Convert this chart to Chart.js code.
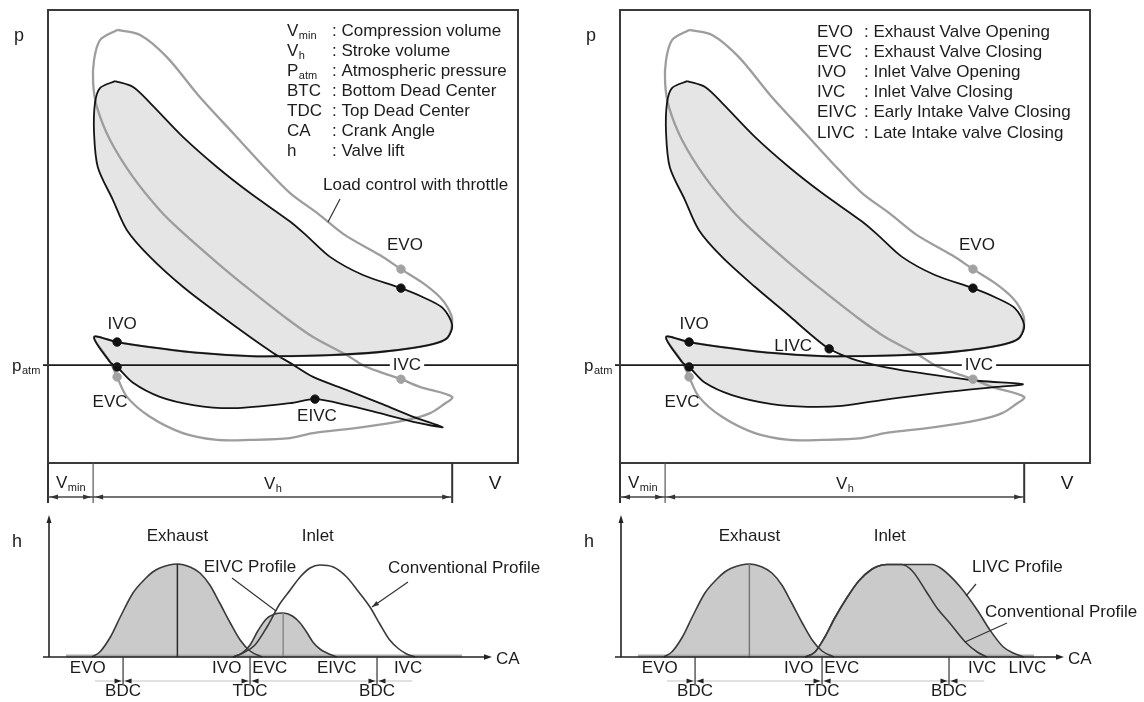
<!DOCTYPE html>
<html><head><meta charset="utf-8">
<script src="https://cdn.jsdelivr.net/npm/chart.js@4.4.0/dist/chart.umd.min.js"></script>
<style>
html,body{margin:0;padding:0;background:#fff;}
#wrap{position:relative;width:1144px;height:702px;overflow:hidden;background:#fff;}
canvas{position:absolute;}
</style></head><body>
<div id="wrap">
<canvas id="pvL" width="572" height="510" style="left:0;top:0;width:572px;height:510px"></canvas>
<canvas id="pvR" width="572" height="510" style="left:572px;top:0;width:572px;height:510px"></canvas>
<canvas id="hL" width="572" height="192" style="left:0;top:510px;width:572px;height:192px"></canvas>
<canvas id="hR" width="572" height="192" style="left:572px;top:510px;width:572px;height:192px"></canvas>
</div>
<script>
// ---------------- DATA ----------------
// p-V diagrams: V in % of box width, p in % of box height
const pAtm = 21.6;
const vMin = 9.6;      // end of compression volume
const vBDC = 86.0;     // Vmin + Vh

// throttled (conventional) cycle, grey
const throttleLoop = [[14.7,95.6],[19.6,94.5],[25.3,89.6],[32.3,80.8],[39.4,72.8],[46.6,64.7],[51.5,59.6],[57.5,55.0],[63.2,50.3],[70.6,45.9],[75.1,42.8],[79.8,39.7],[83.4,36.6],[85.1,34.2],[86.0,31.6],[85.1,27.8],[82.8,26.5],[77.7,25.4],[70.6,24.5],[60.0,23.8],[51.5,23.6],[43.0,23.6],[32.3,24.3],[21.7,25.6],[14.7,26.7],[9.8,27.8],[13.2,22.3],[14.7,19.0],[16.8,14.6],[21.7,10.2],[28.7,6.6],[36.0,5.1],[43.0,5.1],[51.5,5.5],[56.4,6.6],[67.0,7.9],[76.4,9.5],[81.3,11.0],[84.0,12.8],[86.0,14.6],[79.1,16.8],[75.1,18.5],[70.6,20.1],[67.0,21.6],[63.6,23.8],[56.4,27.8],[50.4,32.2],[43.0,38.2],[36.0,44.2],[28.1,51.4],[23.8,55.8],[18.1,63.1],[13.2,71.3],[10.4,78.6],[9.6,83.9],[9.8,89.0],[11.1,93.4],[14.7,95.6]];

// early intake valve closing cycle, black
const eivcLoop = [[14.3,84.3],[18.1,83.0],[21.7,79.5],[28.7,72.0],[36.0,65.3],[43.0,59.6],[51.5,53.3],[55.0,50.2],[60.0,45.5],[67.0,41.5],[75.1,38.6],[79.8,36.6],[84.0,34.2],[86.0,30.5],[85.1,27.8],[82.8,26.5],[77.7,25.4],[70.6,24.5],[60.0,23.8],[51.5,23.6],[43.0,23.6],[32.3,24.3],[21.7,25.6],[14.7,26.7],[9.8,27.8],[13.2,22.3],[14.7,21.2],[18.1,17.7],[23.8,14.6],[30.9,12.8],[39.4,12.1],[51.5,13.2],[56.8,14.1],[63.6,12.8],[70.6,11.0],[77.7,9.1],[84.0,7.9],[77.7,10.2],[70.6,13.2],[63.6,16.1],[56.4,19.0],[51.5,22.1],[47.9,24.3],[43.0,27.8],[36.0,33.1],[28.7,38.9],[21.7,45.5],[16.8,51.4],[13.8,58.1],[10.6,65.3],[9.8,72.8],[10.0,79.5],[11.1,82.8],[14.3,84.3]];

// late intake valve closing cycle, black
const livcLoop = [[14.3,84.3],[18.1,83.0],[21.7,79.5],[28.7,72.0],[36.0,65.3],[43.0,59.6],[51.5,53.3],[55.0,50.2],[60.0,45.5],[67.0,41.5],[75.1,38.6],[79.8,36.6],[84.0,34.2],[86.0,30.5],[85.1,27.8],[82.8,26.5],[77.7,25.4],[70.6,24.5],[60.0,23.8],[51.5,23.6],[43.0,23.6],[32.3,24.3],[21.7,25.6],[14.7,26.7],[9.8,27.8],[13.2,22.3],[14.7,21.2],[18.1,17.7],[23.8,15.0],[32.3,13.0],[40.0,12.4],[47.2,12.6],[55.7,13.9],[69.6,15.7],[80.2,16.8],[85.7,17.4],[76.6,18.1],[69.6,19.0],[62.3,20.1],[55.3,21.4],[49.4,23.0],[44.5,25.2],[40.2,28.7],[36.0,32.5],[28.7,38.9],[21.7,45.5],[16.8,51.4],[13.8,58.1],[10.6,65.3],[9.8,72.8],[10.0,79.5],[11.1,82.8],[14.3,84.3]];

// valve events on the loops [name, V, p]
const throttleEvents = [['EVO',75.1,42.8],['EVC',14.7,19.0],['IVC',75.1,18.5]];
const eivcEvents = [['EVO',75.1,38.6],['IVO',14.7,26.7],['EVC',14.7,21.2],['EIVC',56.8,14.1]];
const livcEvents = [['EVO',75.1,38.6],['IVO',14.7,26.7],['EVC',14.7,21.2],['LIVC',44.5,25.2]];

// valve lift diagrams: [crank angle deg, lift]
const exhaustLift = [[136,0],[147,0.5],[162,2.0],[176,4.0],[194,6.4],[211,7.8],[222,8.5],[232,8.9],[257,9.3],[275,9.0],[289,8.4],[303,7.2],[317,5.4],[332,3.4],[346,1.7],[360,0.6],[377,0]];
const inletConvLeft = [[336,0],[350,0.4],[367,1.2],[384,3.0],[402,5.3],[417,6.7],[431,8.0],[445,8.9],[459,9.2],[478,9.0],[497,8.0],[513,6.6],[530,5.0],[544,3.3],[558,1.7],[571,0.8],[582,0.3],[594,0]];
const eivcLift = [[336,0],[349,0.4],[360,1.2],[371,2.6],[383,3.8],[395,4.3],[407,4.4],[420,4.1],[431,3.4],[441,2.4],[449,1.5],[459,0.8],[469,0.4],[483,0]];
const inletConvRight = [[336,0],[350,0.5],[364,2.0],[378,3.9],[395,5.9],[412,7.6],[431,8.8],[445,9.2],[452,9.25],[473,9.25],[488,8.6],[509,6.4],[524,4.8],[541,3.4],[563,1.5],[580,0.5],[594,0]];
const livcLift = [[336,0],[350,0.5],[364,2.0],[378,3.9],[395,5.9],[412,7.6],[431,8.8],[445,9.2],[452,9.25],[516,9.25],[530,8.8],[556,7.0],[580,4.7],[598,2.7],[617,1.0],[631,0.4],[646,0]];

const caMarks = [['BDC',180],['TDC',360],['BDC',540]];
const caEventsLeft = [['EVO',130],['IVO',327],['EVC',388],['EIVC',483],['IVC',584]];
const caEventsRight = [['EVO',130],['IVO',327],['EVC',388],['IVC',587],['LIVC',651]];

const legendLeft = [['V','min','Compression volume'],['V','h','Stroke volume'],['P','atm','Atmospheric pressure'],['BTC','','Bottom Dead Center'],['TDC','','Top Dead Center'],['CA','','Crank Angle'],['h','','Valve lift']];
const legendRight = [['EVO','','Exhaust Valve Opening'],['EVC','','Exhaust Valve Closing'],['IVO','','Inlet Valve Opening'],['IVC','','Inlet Valve Closing'],['EIVC','','Early Intake Valve Closing'],['LIVC','','Late Intake valve Closing']];

// ---------------- helpers ----------------
const FF = '"Liberation Sans", Arial, Helvetica, sans-serif';
const TXT = '#1c1c1c';
function fnt(s){return s+'px '+FF;}
function txt(ctx,s,x,y,align,sz,color){ctx.save();ctx.font=fnt(sz||17);ctx.fillStyle=color||TXT;ctx.textAlign=align||'center';ctx.textBaseline='middle';ctx.fillText(s,x,y);ctx.restore();}
function subTxt(ctx,base,sub,x,y,align,sz){
  sz=sz||17; const ss=Math.round(sz*0.62);
  ctx.save(); ctx.font=fnt(sz); const w1=ctx.measureText(base).width;
  ctx.font=fnt(ss); const w2=sub?ctx.measureText(sub).width:0;
  const x0 = align==='center' ? x-(w1+w2)/2 : x;
  ctx.textAlign='left'; ctx.textBaseline='middle'; ctx.fillStyle=TXT;
  ctx.font=fnt(sz); ctx.fillText(base,x0,y);
  if(sub){ctx.font=fnt(ss); ctx.fillText(sub,x0+w1+0.5,y+5);}
  ctx.restore(); return w1+w2;
}
function seg(ctx,x1,y1,x2,y2,c,w){ctx.save();ctx.strokeStyle=c||'#222';ctx.lineWidth=w||1.5;ctx.beginPath();ctx.moveTo(x1,y1);ctx.lineTo(x2,y2);ctx.stroke();ctx.restore();}
function arrow(ctx,x,y,ang,len,half,c){ctx.save();ctx.translate(x,y);ctx.rotate(ang);ctx.beginPath();ctx.moveTo(0,0);ctx.lineTo(-(len||8),-(half||3));ctx.lineTo(-(len||8),(half||3));ctx.closePath();ctx.fillStyle=c||'#222';ctx.fill();ctx.restore();}
const xy = arr => arr.map(d=>({x:d[0],y:d[1]}));
const ev = arr => arr.map(d=>({x:d[1],y:d[2]}));
function find(arr,name){return arr.find(d=>d[0]===name);}

// ---------------- p-V charts ----------------
function pvChart(id, blackLoop, blackEvents, legend, legendCols, labelSpecs, extra){
  const deco = {
    id:'pvDeco',
    afterDatasetsDraw(chart){
      const {ctx, chartArea:a, scales:{x,y}} = chart;
      const ya = y.getPixelForValue(pAtm);
      seg(ctx, a.left-5, ya, a.right, ya, '#1a1a1a', 1.7);
      // box
      ctx.save(); ctx.strokeStyle='#3a3a3a'; ctx.lineWidth=2; ctx.strokeRect(a.left,a.top,a.width,a.height); ctx.restore();
      // V row
      const x0=x.getPixelForValue(0), x1=x.getPixelForValue(vMin), x2=x.getPixelForValue(vBDC);
      const yb=a.bottom, ye=a.bottom+40, yd=a.bottom+34;
      seg(ctx,x0,yb,x0,ye,'#333',2); seg(ctx,x1,yb,x1,ye,'#555',1.2); seg(ctx,x2,yb,x2,ye,'#333',2);
      seg(ctx,x0,yd,x1,yd,'#444',1.5); seg(ctx,x1,yd,x2,yd,'#444',1.5);
      arrow(ctx,x0+2,yd,Math.PI,8,2.5,'#333'); arrow(ctx,x1-2,yd,0,8,2.5,'#333');
      arrow(ctx,x1+2,yd,Math.PI,8,2.5,'#333'); arrow(ctx,x2-2,yd,0,8,2.5,'#333');
      subTxt(ctx,'V','min',(x0+x1)/2,a.bottom+20,'center',17);
      subTxt(ctx,'V','h',(x1+x2)/2,a.bottom+21,'center',17);
      txt(ctx,'V',a.right-23,a.bottom+21,'center',19);
      // axis names
      txt(ctx,'p',14,36,'left',18);
      subTxt(ctx,'p','atm',12,ya+1,'left',17);
      // legend
      legend.forEach((r,i)=>{
        const yy = legendCols.y0 + legendCols.dy*i;
        subTxt(ctx,r[0],r[1],legendCols.x0,yy,'left',17);
        txt(ctx,': '+r[2],legendCols.x1,yy,'left',17);
      });
      // event labels
      labelSpecs.forEach(s=>{
        const e = find(s.src, s.name);
        const px = x.getPixelForValue(e[1])+s.dx, py = y.getPixelForValue(e[2])+s.dy;
        if(s.bg){ctx.save();ctx.font=fnt(17);const w=ctx.measureText(s.name).width;ctx.fillStyle='#fff';ctx.fillRect(px-w/2-3,py-7,w+6,14);ctx.restore();}
        txt(ctx,s.name,px,py,'center',17);
      });
      if(extra) extra(ctx,a,x,y);
    }
  };
  return new Chart(document.getElementById(id), {
    type:'scatter',
    data:{datasets:[
      {data:ev(blackEvents), showLine:false, pointRadius:4.2, pointBackgroundColor:'#111', pointBorderColor:'#111', order:0},
      {data:ev(throttleEvents), showLine:false, pointRadius:4.2, pointBackgroundColor:'#a2a2a2', pointBorderColor:'#a2a2a2', order:0},
      {data:xy(blackLoop), showLine:true, borderColor:'#151515', borderWidth:1.8, pointRadius:0, tension:0.3, fill:'shape', backgroundColor:'#e5e5e5', order:1},
      {data:xy(throttleLoop), showLine:true, borderColor:'#9d9d9d', borderWidth:2.3, pointRadius:0, tension:0.3, fill:false, order:2}
    ]},
    options:{
      responsive:false, animation:false, events:[],
      layout:{padding:{left:48,top:10,right:54,bottom:47}},
      scales:{x:{type:'linear',min:0,max:100,display:false},y:{type:'linear',min:0,max:100,display:false}},
      plugins:{legend:{display:false},tooltip:{enabled:false},filler:{drawTime:'beforeDatasetsDraw'}}
    },
    plugins:[deco]
  });
}

const baseLabels = [
  {name:'EVO', src:throttleEvents, dx:4, dy:-24},
  {name:'IVC', src:throttleEvents, dx:6, dy:-14, bg:true},
  {name:'IVO', src:eivcEvents, dx:5, dy:-18},
  {name:'EVC', src:eivcEvents, dx:-7, dy:35}
];

pvChart('pvL', eivcLoop, eivcEvents, legendLeft, {x0:287,x1:332,y0:31,dy:20},
  baseLabels.concat([{name:'EIVC', src:eivcEvents, dx:2, dy:17}]),
  (ctx)=>{ txt(ctx,'Load control with throttle',323,185,'left',17); seg(ctx,340,199,328,222,'#333',1.2); });

pvChart('pvR', livcLoop, livcEvents, legendRight, {x0:245,x1:292,y0:32,dy:20.2},
  baseLabels.map(s=>s.src===eivcEvents?Object.assign({},s,{src:livcEvents}):s).concat([{name:'LIVC', src:livcEvents, dx:-36, dy:-3}]),
  null);

// ---------------- valve lift charts ----------------
function liftChart(id, datasetsSpec, events, extra){
  const deco = {
    id:'hDeco',
    beforeDatasetsDraw(chart){
      const {ctx, chartArea:a, scales:{x}} = chart;
      seg(ctx, 66, a.bottom-1, 462, a.bottom-1, '#a8a8a8', 3);
    },
    afterDatasetsDraw(chart){
      const {ctx, chartArea:a, scales:{x,y}} = chart;
      // peak verticals
      datasetsSpec.filter(s=>s.peakLine).forEach(s=>{
        const pk = s.data.reduce((m,d)=>d[1]>m[1]?d:m, s.data[0]);
        const px=x.getPixelForValue(pk[0]);
        seg(ctx,px,y.getPixelForValue(pk[1]),px,a.bottom,s.peakLine,1.5);
      });
      // axes
      seg(ctx,a.left,a.bottom,a.left,a.top+6,'#222',1.6); arrow(ctx,a.left,a.top,-Math.PI/2,8,2.5);
      seg(ctx,a.left-6,a.bottom,a.right-4,a.bottom,'#222',1.6); arrow(ctx,a.right,a.bottom,0,8,2.8);
      txt(ctx,'CA',a.right+4,a.bottom+2,'left',17);
      txt(ctx,'h',17,32,'center',18);
      // valve events
      events.forEach(e=>txt(ctx,e[0],x.getPixelForValue(e[1]),a.bottom+11,'center',17));
      // BDC / TDC
      const yl=a.bottom+24;
      seg(ctx,x.getPixelForValue(140),yl,x.getPixelForValue(590),yl,'#c4c4c4',1.2);
      caMarks.forEach(m=>{
        const px=x.getPixelForValue(m[1]);
        seg(ctx,px,a.bottom,px,a.bottom+27,'#333',1.2);
        arrow(ctx,px-1.5,yl,0,7,2.5,'#222'); arrow(ctx,px+1.5,yl,Math.PI,7,2.5,'#222');
        txt(ctx,m[0],px,a.bottom+34,'center',17);
      });
      // stroke names
      const pkE = exhaustLift.reduce((m,d)=>d[1]>m[1]?d:m, exhaustLift[0]);
      txt(ctx,'Exhaust',x.getPixelForValue(pkE[0]),26,'center',17);
      txt(ctx,'Inlet',x.getPixelForValue(456),26,'center',17);
      if(extra) extra(ctx,a,x,y);
    }
  };
  return new Chart(document.getElementById(id), {
    type:'scatter',
    data:{datasets: datasetsSpec.map((s,i)=>({
      data:xy(s.data), showLine:true, pointRadius:0, borderColor:'#3a3a3a', borderWidth:1.6,
      cubicInterpolationMode:'monotone', fill:s.fill?'origin':false, backgroundColor:'#cacaca', order:i, clip:6
    }))},
    options:{
      responsive:false, animation:false, events:[],
      layout:{padding:{left:49,top:5,right:80,bottom:45}},
      scales:{x:{type:'linear',min:75,max:703,display:false},y:{type:'linear',min:0,max:14.2,display:false}},
      plugins:{legend:{display:false},tooltip:{enabled:false},filler:{drawTime:'beforeDatasetsDraw'}}
    },
    plugins:[deco]
  });
}

liftChart('hL', [
  {data:inletConvLeft, fill:false},
  {data:eivcLift, fill:true, peakLine:'#8a8a8a'},
  {data:exhaustLift, fill:true, peakLine:'#2a2a2a'}
], caEventsLeft, (ctx)=>{
  txt(ctx,'EIVC Profile',250,57,'center',17);
  seg(ctx,232,68,276,101,'#333',1.2);
  txt(ctx,'Conventional Profile',388,58,'left',17);
  seg(ctx,408,72,372,97,'#333',1.2); arrow(ctx,372,97,Math.atan2(25,-36),7,2.5,'#333');
});

liftChart('hR', [
  {data:inletConvRight, fill:false},
  {data:livcLift, fill:true},
  {data:exhaustLift, fill:true, peakLine:'#777'}
], caEventsRight, (ctx)=>{
  txt(ctx,'LIVC Profile',400,57,'left',17);
  seg(ctx,404,74,394,86,'#333',1.2);
  txt(ctx,'Conventional Profile',413,102,'left',17);
  seg(ctx,435,113,393,132,'#333',1.2);
});
</script>
</body></html>
